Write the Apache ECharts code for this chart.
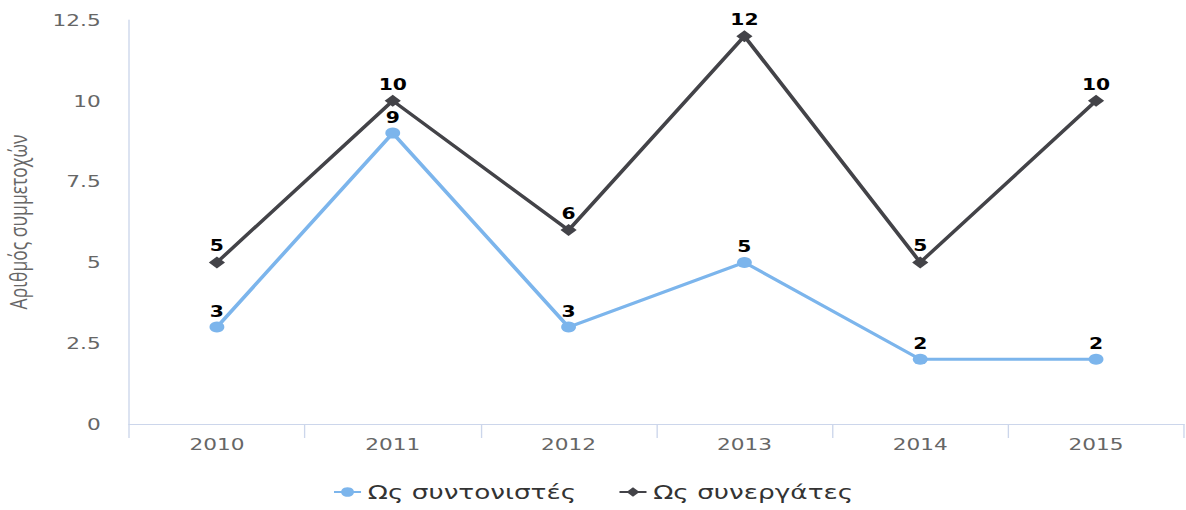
<!DOCTYPE html>
<html><head><meta charset="utf-8">
<script src="https://cdn.jsdelivr.net/npm/echarts@6/dist/echarts.min.js"></script>
<style>
html,body{margin:0;padding:0;background:#fff;overflow:hidden}
#wrap{width:1186px;height:510px;overflow:hidden}
#c{width:878px;height:510px;transform:scaleX(1.3508);transform-origin:0 0}
</style>
</head><body><div id="wrap"><div id="c"></div></div>
<script>
const years = ['2010','2011','2012','2013','2014','2015'];
const coordinators = [3, 9, 3, 5, 2, 2];
const partners = [5, 10, 6, 12, 5, 10];
const seriesNames = ['Ως συντονιστές', 'Ως συνεργάτες'];
const yAxisName = 'Αριθμός συμμετοχών';
const yTicks = {min: 0, max: 12.5, interval: 2.5};
const font = 'DejaVu Sans';
const chart = echarts.init(document.getElementById('c'), null, {renderer: 'svg'});
chart.setOption({
  animation: false,
  textStyle: {fontFamily: font},
  grid: {left: 95.5, right: 1.5, top: 20, bottom: 86, outerBoundsMode: 'none', containLabel: false},
  legend: {
    bottom: 3, left: 'center', itemGap: 31, itemWidth: 20, itemHeight: 12,
    textStyle: {fontSize: 19.5, color: '#333', fontFamily: font},
    data: seriesNames
  },
  xAxis: {
    type: 'category', data: years, boundaryGap: true,
    axisLine: {lineStyle: {color: '#ccd6eb', width: 1}},
    axisTick: {show: true, length: 14, lineStyle: {color: '#ccd6eb'}},
    axisLabel: {color: '#666', fontSize: 16, margin: 12}
  },
  yAxis: {
    type: 'value', min: yTicks.min, max: yTicks.max, interval: yTicks.interval,
    name: yAxisName, nameLocation: 'middle', nameGap: 73, nameRotate: 90,
    nameTextStyle: {color: '#666', fontSize: 17.5, fontFamily: 'Open Sans'},
    axisLine: {show: true, lineStyle: {color: '#ccd6eb'}},
    axisTick: {show: false},
    splitLine: {show: false},
    axisLabel: {color: '#666', fontSize: 16, margin: 21}
  },
  series: [
    {
      name: seriesNames[0], type: 'line', data: coordinators,
      symbol: 'circle', symbolSize: 11,
      lineStyle: {color: '#7cb5ec', width: 3},
      itemStyle: {color: '#7cb5ec'},
      label: {show: true, position: 'top', distance: 3, color: '#000', fontWeight: 'bold', fontSize: 15}
    },
    {
      name: seriesNames[1], type: 'line', data: partners,
      symbol: 'diamond', symbolSize: 12,
      lineStyle: {color: '#434348', width: 3},
      itemStyle: {color: '#434348'},
      label: {show: true, position: 'top', distance: 3, color: '#000', fontWeight: 'bold', fontSize: 15}
    }
  ]
});
</script></body></html>
